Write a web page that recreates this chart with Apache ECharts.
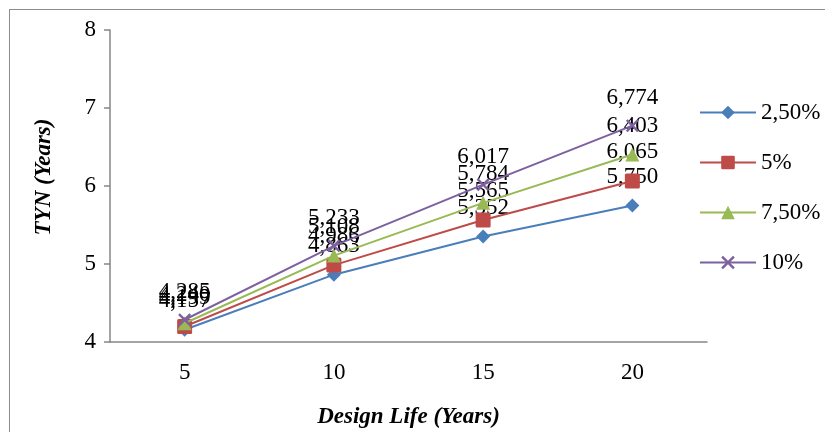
<!DOCTYPE html>
<html>
<head>
<meta charset="utf-8">
<script src="https://cdn.jsdelivr.net/npm/echarts@6/dist/echarts.min.js"></script>
<style>
  html, body { margin: 0; padding: 0; background: #fff; }
  #frame { position: absolute; left: 9px; top: 9px; width: 900px; height: 500px; border: 1px solid #8c8c8c; }
  #chart { position: absolute; left: 0; top: 0; width: 825px; height: 432px; }
</style>
</head>
<body>
<div id="frame"></div>
<div id="chart"></div>
<script>
var designLife = ['5', '10', '15', '20'];
var seriesNames = ['2,50%', '5%', '7,50%', '10%'];
var tyn25 = [4.157, 4.863, 5.352, 5.750];
var tyn5 = [4.199, 4.986, 5.565, 6.065];
var tyn75 = [4.240, 5.108, 5.784, 6.403];
var tyn10 = [4.285, 5.233, 6.017, 6.774];

var colors = ['#4A7EBB', '#BE4B48', '#98B954', '#7D60A0'];
var symbols = [
  'diamond',
  'path://M1,0 L9,0 Q10,0 10,1 L10,9 Q10,10 9,10 L1,10 Q0,10 0,9 L0,1 Q0,0 1,0 Z',
  'triangle',
  'path://M0,1.3 L1.3,0 L5,3.7 L8.7,0 L10,1.3 L6.3,5 L10,8.7 L8.7,10 L5,6.3 L1.3,10 L0,8.7 L3.7,5 Z'
];
var sizes = [14, 15, 14, 13];
var values = [tyn25, tyn5, tyn75, tyn10];
var serif = '"Liberation Serif", "DejaVu Serif", serif';

var chart = echarts.init(document.getElementById('chart'), null, { renderer: 'canvas' });

function fmt(v) { return v.toFixed(3).replace('.', ','); }

chart.setOption({
  animation: false,
  legend: {
    orient: 'vertical',
    left: 694,
    top: 96,
    itemWidth: 56,
    itemHeight: 17,
    itemGap: 27,
    textStyle: { fontFamily: serif, fontSize: 23, color: '#000' },
    data: seriesNames
  },
  grid: { left: 110, right: 118, top: 30, bottom: 90, containLabel: false, outerBoundsMode: 'none' },
  xAxis: {
    type: 'category',
    data: designLife,
    boundaryGap: true,
    axisLine: { lineStyle: { color: '#868686', width: 1.5 } },
    axisTick: { show: false },
    axisLabel: { fontFamily: serif, fontSize: 23, color: '#000', margin: 19 },
    name: 'Design Life (Years)',
    nameLocation: 'middle',
    nameGap: 64,
    nameTextStyle: { fontFamily: serif, fontSize: 23, fontWeight: 'bold', fontStyle: 'italic', color: '#000' }
  },
  yAxis: {
    type: 'value',
    min: 4,
    max: 8,
    interval: 1,
    axisLine: { show: true, lineStyle: { color: '#868686', width: 1.5 } },
    axisTick: { show: true, length: 6, inside: false, lineStyle: { color: '#868686', width: 1.5 } },
    splitLine: { show: false },
    axisLabel: { fontFamily: serif, fontSize: 23, color: '#000', margin: 14 },
    name: 'TYN (Years)',
    nameLocation: 'middle',
    nameRotate: 90,
    nameGap: 54,
    nameTextStyle: { fontFamily: serif, fontSize: 23, fontWeight: 'bold', fontStyle: 'italic', color: '#000', padding: [0, 0, 0, 18] }
  },
  series: values.map(function (d, i) {
    return {
      name: seriesNames[i],
      type: 'line',
      data: d,
      symbol: symbols[i],
      symbolSize: sizes[i],
      lineStyle: { color: colors[i], width: 2 },
      itemStyle: { color: colors[i] },
      label: {
        show: true,
        position: 'top',
        distance: 10,
        fontFamily: serif,
        fontSize: 23,
        color: '#000',
        formatter: function (p) { return fmt(p.value); }
      },
      labelLayout: { hideOverlap: false },
      z: 2 + i
    };
  })
});
</script>
</body>
</html>
